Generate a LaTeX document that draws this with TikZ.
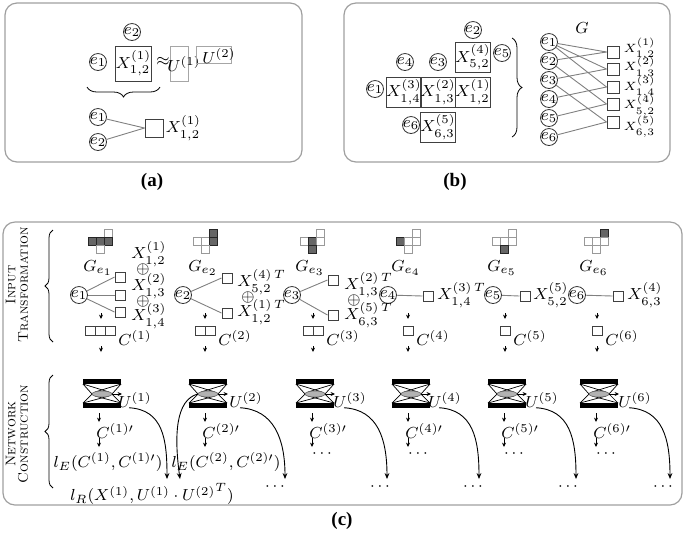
\documentclass[tikz,border=0pt]{standalone}
\usepackage{fontspec}
\newfontfamily\capfont{Liberation Serif}
\usetikzlibrary{shapes.geometric,decorations.pathreplacing,arrows.meta}
\tikzset{
 panel/.style={draw=gray!75, line width=0.6pt, rounded corners=6pt},
 ec/.style={circle, draw=black!80, line width=0.4pt, inner sep=-0.5pt, minimum size=8.5pt},
 bx/.style={draw=black!75, line width=0.5pt, inner sep=0pt},
 csq/.style={bx, minimum size=5pt},
 cc/.style={bx, minimum width=5pt, minimum height=4.5pt},
 gl/.style={draw=gray, line width=0.45pt},
 sarr/.style={-{Stealth[length=2.2pt,width=2pt]}, line width=0.4pt},
 carr/.style={-{Stealth[length=3pt,width=2.4pt]}, line width=0.45pt},
 lbl/.style={inner sep=0pt},
 rlbl/.style={inner sep=0pt, anchor=west, font=\fontsize{6.5}{7.5}\selectfont},
 captxt/.style={font=\capfont\bfseries\fontsize{9.5}{11}\selectfont},
 side/.style={rotate=90, align=center, font=\fontsize{7}{6.2}\selectfont, inner sep=0pt},
 brc/.style={decorate, decoration={brace, amplitude=4pt}, line width=0.4pt},
 lt/.style={fill=white, draw=gray!80, line width=0.4pt},
 dk/.style={fill=black!60, draw=black!85, line width=0.4pt},
}
\newcommand\gicon[6]{%
 \path[#2] ({#1+4},229) rectangle ++(8,8);
 \path[#3] ({#1-12},237) rectangle ++(8,8);
 \path[#4] ({#1-4},237) rectangle ++(8,8);
 \path[#5] ({#1+4},237) rectangle ++(8,8);
 \path[#6] ({#1-4},245) rectangle ++(8,8);
}
\newcommand\aenc[2]{%
 \fill[black] ({#2-19},379) rectangle ({#2+19},384);
 \fill[black] ({#2-19},403) rectangle ({#2+19},408);
 \draw[line width=0.35pt] ({#2-19},384) -- ({#2-10},394) -- ({#2-19},403);
 \draw[line width=0.35pt] ({#2+19},384) -- ({#2+10},394) -- ({#2+19},403);
 \draw[line width=0.35pt] ({#2-19},384) -- ({#2+7},392);
 \draw[line width=0.35pt] ({#2+19},384) -- ({#2-7},392);
 \draw[line width=0.35pt] ({#2-19},403) -- ({#2+7},396);
 \draw[line width=0.35pt] ({#2+19},403) -- ({#2-7},396);
 \node[ellipse, fill=gray!60, draw=black!60, line width=0.3pt, minimum width=10pt, minimum height=3pt, inner sep=0pt] (#1) at (#2,394) {};
 \coordinate (#1o) at ({#2+20},394);
 \draw[sarr] (#1.east) -- (#1o);
}
\begin{document}
\begin{tikzpicture}[x=0.5pt,y=-0.5pt,font=\fontsize{8}{9.6}\selectfont]
\useasboundingbox (0,0) rectangle (685,532);

% ---------------- panel (a)
\draw[panel] (5,3) rectangle (302,162);
\node[ec] (a2) at (132,32) {$e_2$};
\node[ec] (a1) at (98,62) {$e_1$};
\node[bx, minimum size=17.5pt] (ax) at (133.5,63.5) {$X^{(1)}_{1,2}$};
\node[lbl] (aap) at (163,61) {$\approx$};
\node[draw=gray!70, line width=0.5pt, minimum width=9pt, minimum height=17.5pt, inner sep=0pt] (au1) at (179,63.5) {};
\node[lbl] (au1t) at (184,64) {$U^{(1)}$};
\node[draw=gray!70, line width=0.5pt, minimum width=17.5pt, minimum height=8.5pt, inner sep=0pt] (au2) at (213.5,54.5) {};
\node[lbl] (au2t) at (219,56) {$U^{(2)}$};
\coordinate (abl) at (87,87); \coordinate (abr) at (160,87);
\draw[brc, decoration={amplitude=5pt}] (abr) -- (abl);
\node[ec] (b1) at (98,117) {$e_1$};
\node[ec] (b2) at (98,142) {$e_2$};
\node[bx, minimum size=9pt] (bs) at (154,128) {};
\node[lbl, anchor=west] (bst) at ([xshift=1pt]bs.east) {$X^{(1)}_{1,2}$};
\draw[gl] (b1) -- (bs.west);
\draw[gl] (b2) -- (bs.west);
\node[captxt] (capa) at (152,182) {(a)};

% ---------------- panel (b)
\draw[panel] (344,3) rectangle (670,162);
\node[bx, minimum size=15pt] (X52) at (473,57.5) {$X^{(4)}_{5,2}$};
\node[bx, minimum size=15pt] (X14) at (404,92) {$X^{(3)}_{1,4}$};
\node[bx, minimum size=15pt] (X13) at (438,92) {$X^{(2)}_{1,3}$};
\node[bx, minimum size=15pt] (X12) at (473,92) {$X^{(1)}_{1,2}$};
\node[bx, minimum size=15pt] (X63) at (438,127) {$X^{(5)}_{6,3}$};
\node[ec] (p2) at (473,30) {$e_2$};
\node[ec] (p5) at (502,53) {$e_5$};
\node[ec] (p4) at (405,62) {$e_4$};
\node[ec] (p3) at (438,62) {$e_3$};
\node[ec] (p1) at (375,89) {$e_1$};
\node[ec] (p6) at (411,125) {$e_6$};
\coordinate (bbt) at (512,38); \coordinate (bbb) at (512,137);
\draw[brc, decoration={amplitude=5pt}] (bbt) -- (bbb);
\node[lbl] (G) at (582,28) {$G$};
\foreach \i/\y in {1/42,2/61,3/80,4/99,5/118,6/137} \node[ec] (L\i) at (549,\y) {$e_\i$};
\foreach \i/\y in {1/52,2/69,3/87,4/104,5/122} \node[bx, minimum size=6pt] (S\i) at (613,\y) {};
\node[rlbl] (T1) at ([xshift=2pt,yshift=1.5pt]S1.east) {$X^{(1)}_{1,2}$};
\node[rlbl] (T2) at ([xshift=2pt,yshift=0.7pt]S2.east) {$X^{(2)}_{1,3}$};
\node[rlbl] (T3) at ([xshift=2pt]S3.east) {$X^{(3)}_{1,4}$};
\node[rlbl] (T4) at ([xshift=2pt,yshift=-0.7pt]S4.east) {$X^{(4)}_{5,2}$};
\node[rlbl] (T5) at ([xshift=2pt,yshift=-2.5pt]S5.east) {$X^{(5)}_{6,3}$};
\foreach \a/\b in {1/1,1/2,1/3,2/1,2/4,3/2,3/5,4/3,5/4,6/5} \draw[gl] (L\a) -- (S\b.west);
\node[captxt] (capb) at (455,182) {(b)};

% ---------------- panel (c)
\draw[panel] (3,222) rectangle (682,505);
\node[side] (it) at (17,285) {\textsc{Input}\\\textsc{Transformation}};
\node[side] (nc) at (17,434) {\textsc{Network}\\\textsc{Construction}};
\coordinate (br1b) at (53,342); \coordinate (br1t) at (53,230);
\coordinate (br2b) at (53,488); \coordinate (br2t) at (53,375);
\draw[brc] (br1b) -- (br1t);
\draw[brc] (br2b) -- (br2t);

% icons
\gicon{100}{lt}{dk}{dk}{dk}{lt}
\gicon{205}{dk}{lt}{lt}{dk}{lt}
\gicon{312}{lt}{lt}{dk}{lt}{dk}
\gicon{408}{lt}{dk}{lt}{lt}{lt}
\gicon{504}{lt}{lt}{lt}{lt}{dk}
\gicon{596}{dk}{lt}{lt}{lt}{lt}
\node[lbl] (g1) at (98,268) {$G_{e_1}$};
\node[lbl] (g2) at (203,268) {$G_{e_2}$};
\node[lbl] (g3) at (310,268) {$G_{e_3}$};
\node[lbl] (g4) at (406,268) {$G_{e_4}$};
\node[lbl] (g5) at (502,268) {$G_{e_5}$};
\node[lbl] (g6) at (594,268) {$G_{e_6}$};

% circles and squares
\node[ec] (c1) at (79,295) {$e_1$};
\node[ec] (c2) at (183,295) {$e_2$};
\node[ec] (c3) at (292,295) {$e_3$};
\node[ec] (c4) at (388,295) {$e_4$};
\node[ec] (c5) at (493,295) {$e_5$};
\node[ec] (c6) at (577,295) {$e_6$};
\node[csq] (q11) at (120,277) {};
\node[csq] (q12) at (120,295) {};
\node[csq] (q13) at (120,312) {};
\node[csq] (q21) at (227,278) {};
\node[csq] (q22) at (227,313) {};
\node[csq] (q31) at (333,280) {};
\node[csq] (q32) at (333,315) {};
\node[csq] (q41) at (428,296) {};
\node[csq] (q51) at (525,296) {};
\node[csq] (q61) at (618,296) {};
\foreach \c/\q in {c1/q11,c1/q12,c1/q13,c2/q21,c2/q22,c3/q31,c3/q32,c4/q41,c5/q51,c6/q61} \draw[gl] (\c) -- (\q.west);

% X labels
\node[lbl, anchor=west] (x11) at (131,254) {$X^{(1)}_{1,2}$};
\node[lbl] (o11) at (143,269) {$\oplus$};
\node[lbl, anchor=west] (x12) at (131,286) {$X^{(2)}_{1,3}$};
\node[lbl] (o12) at (143,301) {$\oplus$};
\node[lbl, anchor=west] (x13) at (131,316) {$X^{(3)}_{1,4}$};
\node[lbl, anchor=west] (x21) at (237,282) {$X^{(4)\,T}_{5,2}$};
\node[lbl] (o21) at (248,297) {$\oplus$};
\node[lbl, anchor=west] (x22) at (237,312) {$X^{(1)\,T}_{1,2}$};
\node[lbl, anchor=west] (x31) at (344,285) {$X^{(2)\,T}_{1,3}$};
\node[lbl] (o31) at (354,300) {$\oplus$};
\node[lbl, anchor=west] (x32) at (344,315) {$X^{(5)\,T}_{6,3}$};
\node[lbl, anchor=west] (x41) at (437,295) {$X^{(3)\,T}_{1,4}$};
\node[lbl, anchor=west] (x51) at (533,295) {$X^{(5)}_{5,2}$};
\node[lbl, anchor=west] (x61) at (627,295) {$X^{(4)}_{6,3}$};

% short arrows
\foreach \i/\x in {1/101,2/205,3/313,4/408,5/505,6/597}{
 \coordinate (ra\i) at (\x,313); \coordinate (rb\i) at (\x,319);
 \draw[sarr] (ra\i) -- (rb\i);
 \coordinate (rc\i) at (\x,346); \coordinate (rd\i) at (\x,352);
 \draw[sarr] (rc\i) -- (rd\i);
}

% C boxes
\node[cc] (k11) at (90,331) {};
\node[cc] (k12) at (100,331) {};
\node[cc] (k13) at (110,331) {};
\node[cc] (k21) at (200,331) {};
\node[cc] (k22) at (210,331) {};
\node[cc] (k31) at (308,331) {};
\node[cc] (k32) at (318,331) {};
\node[cc] (k41) at (408,331) {};
\node[cc] (k51) at (505,331) {};
\node[cc] (k61) at (597,331) {};
\node[lbl, anchor=west] (C1) at (118,338) {$C^{(1)}$};
\node[lbl, anchor=west] (C2) at (218,338) {$C^{(2)}$};
\node[lbl, anchor=west] (C3) at (326,338) {$C^{(3)}$};
\node[lbl, anchor=west] (C4) at (416,338) {$C^{(4)}$};
\node[lbl, anchor=west] (C5) at (513,338) {$C^{(5)}$};
\node[lbl, anchor=west] (C6) at (605,338) {$C^{(6)}$};

% autoencoders
\aenc{h1}{102}
\aenc{h2}{208}
\aenc{h3}{315}
\aenc{h4}{411}
\aenc{h5}{507}
\aenc{h6}{599}
\node[lbl] (u1) at (135,400) {$U^{(1)}$};
\node[lbl] (u2) at (246,400) {$U^{(2)}$};
\node[lbl] (u3) at (350,400) {$U^{(3)}$};
\node[lbl] (u4) at (445,400) {$U^{(4)}$};
\node[lbl] (u5) at (542,400) {$U^{(5)}$};
\node[lbl] (u6) at (635,400) {$U^{(6)}$};

\foreach \i/\x in {1/99,2/205,3/312,4/408,5/504,6/596}{
 \coordinate (da\i) at (\x,413); \coordinate (db\i) at (\x,422);
 \draw[sarr] (da\i) -- (db\i);
 \coordinate (dc\i) at (\x,438); \coordinate (dd\i) at (\x,447);
 \draw[sarr] (dc\i) -- (dd\i);
}
\node[lbl, anchor=west] (cp1) at (96,431) {$C^{(1)\prime}$};
\node[lbl, anchor=west] (cp2) at (202,431) {$C^{(2)\prime}$};
\node[lbl, anchor=west] (cp3) at (309,431) {$C^{(3)\prime}$};
\node[lbl, anchor=west] (cp4) at (405,431) {$C^{(4)\prime}$};
\node[lbl, anchor=west] (cp5) at (501,431) {$C^{(5)\prime}$};
\node[lbl, anchor=west] (cp6) at (593,431) {$C^{(6)\prime}$};
\node[lbl] (le1) at (108,462) {$l_E(C^{(1)},C^{(1)\prime})$};
\node[lbl] (le2) at (226,462) {$l_E(C^{(2)},C^{(2)\prime})$};
\node[lbl] (dm3) at (322,454) {$\cdots$};
\node[lbl] (dm4) at (418,454) {$\cdots$};
\node[lbl] (dm5) at (514,454) {$\cdots$};
\node[lbl] (dm6) at (606,454) {$\cdots$};

\node[lbl] (lR) at (152,494) {$l_R(X^{(1)},U^{(1)}\cdot {U^{(2)}}^{T})$};
\node[lbl] (db2) at (275,487) {$\cdots$};
\node[lbl] (db3) at (380,487) {$\cdots$};
\node[lbl] (db4) at (473,487) {$\cdots$};
\node[lbl] (db5) at (568,487) {$\cdots$};
\node[lbl] (db6) at (663,487) {$\cdots$};
\coordinate (t1) at (167,479);
\coordinate (t1b) at (180,479);
\coordinate (t2) at (285,479);
\coordinate (t3) at (387,479);
\coordinate (t4) at (479,479);
\coordinate (t5) at (576,479);
\coordinate (t6) at (670,479);
\draw[carr] ([xshift=-3pt]u1.south) .. controls +(17pt,-1pt) and +(0,20pt) .. (t1);
\draw[carr] (h2.west) .. controls +(-11pt,-3pt) and +(-3pt,22pt) .. (t1b);
\foreach \i in {2,3,4,5,6}
 \draw[carr] ([xshift=-3pt]u\i.south) .. controls +(17pt,-1pt) and +(0,20pt) .. (t\i);
\node[captxt] (capc) at (342,521) {(c)};
\end{tikzpicture}
\end{document}
